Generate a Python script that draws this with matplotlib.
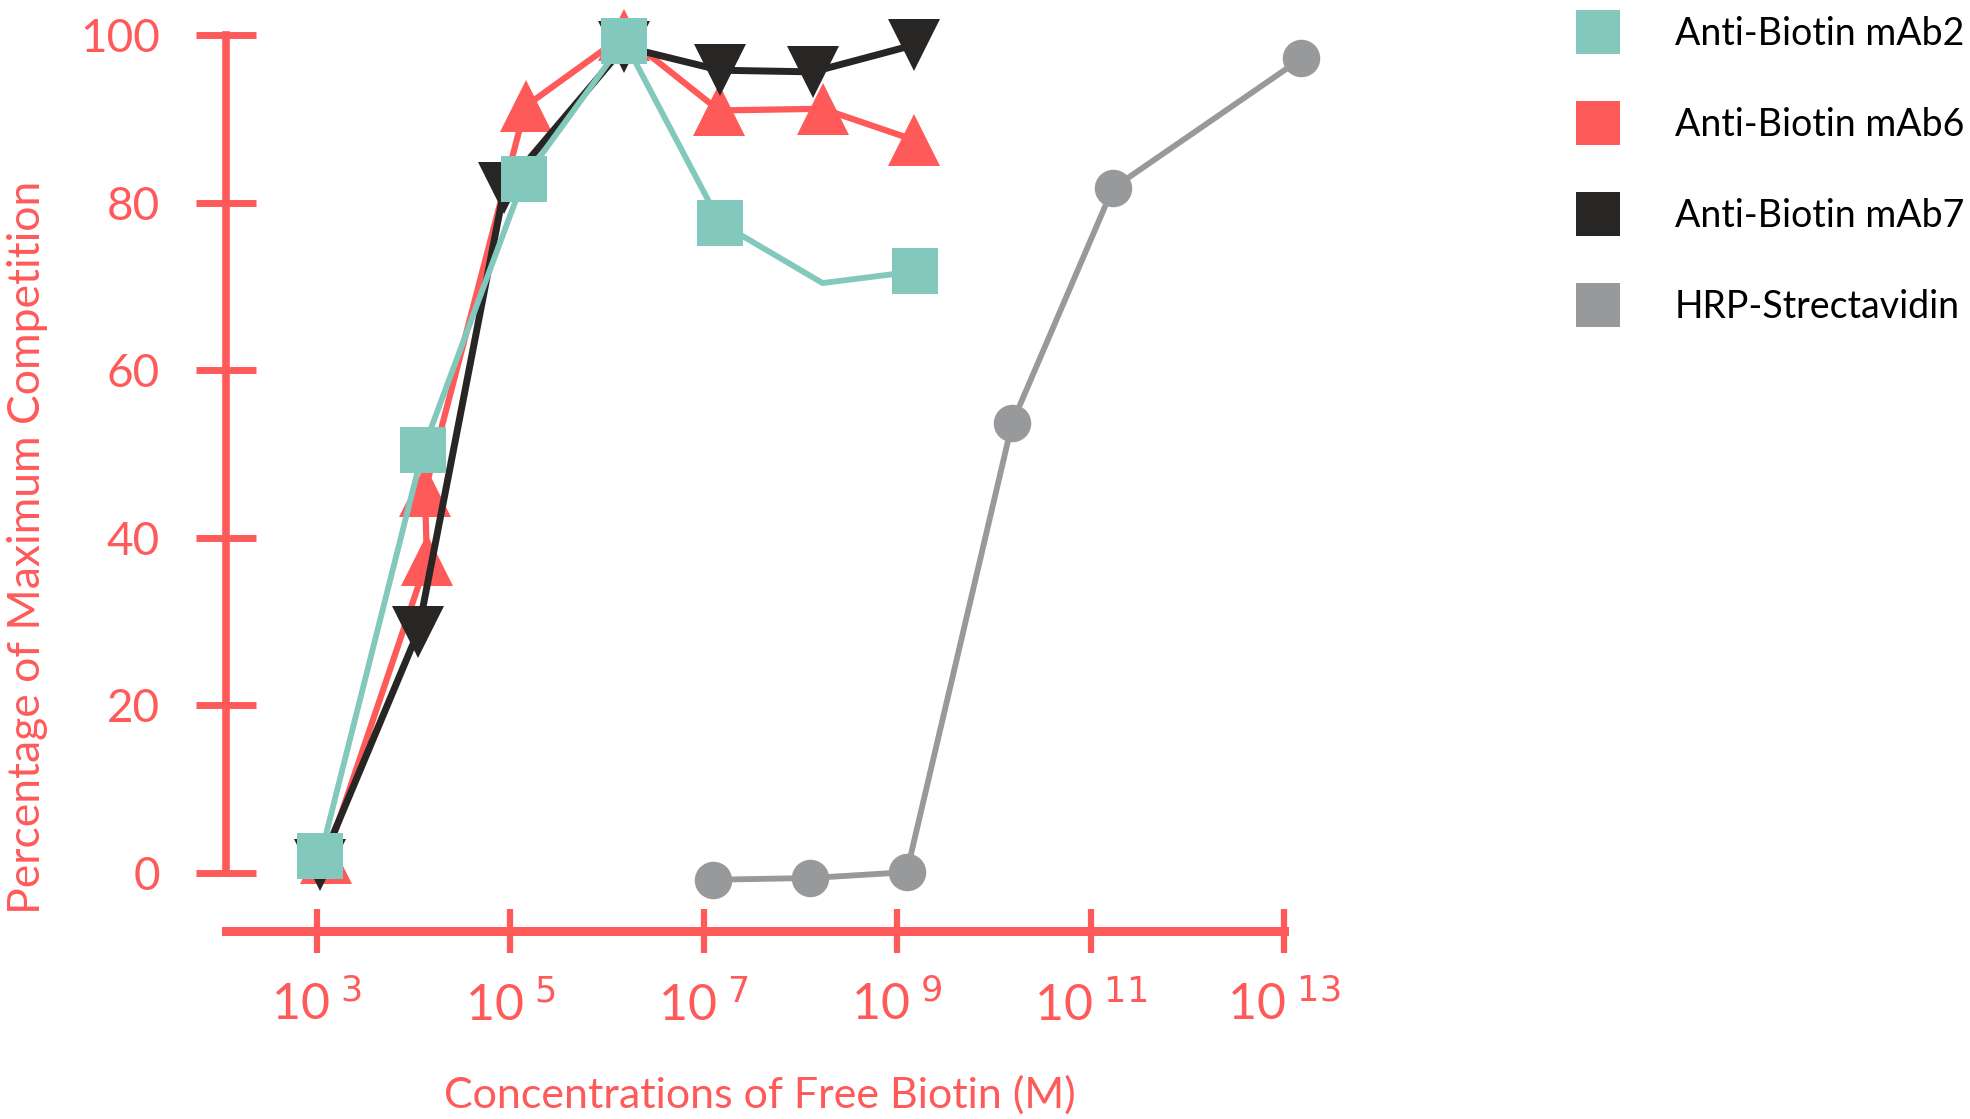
import matplotlib.pyplot as plt
from matplotlib.lines import Line2D

# log10 of free biotin concentration
mab2_x = [3.04, 4.10, 5.14, 6.18, 7.17, 8.23, 9.19]
mab2_y = [2.0, 50.5, 82.8, 99.3, 77.6, 70.4, 71.8]
mab2_marked = [0, 1, 2, 3, 4, 6]  # no marker on the 10^8 point

mab6_x = [3.10, 4.14, 4.12, 5.16, 6.18, 7.16, 8.23, 9.17]
mab6_y = [1.8, 37.3, 45.6, 91.5, 100.0, 91.0, 91.2, 87.5]

mab7_x = [3.04, 4.05, 4.94, 6.18, 7.17, 8.13, 9.17]
mab7_y = [1.0, 28.8, 81.7, 98.6, 95.8, 95.6, 98.8]

hrp_x = [7.10, 8.10, 9.10, 10.19, 11.23, 13.18]
hrp_y = [-0.8, -0.6, 0.1, 53.7, 81.7, 97.2]

x_ticks = [3, 5, 7, 9, 11, 13]
y_ticks = [0, 20, 40, 60, 80, 100]
labels = ['Anti-Biotin mAb2', 'Anti-Biotin mAb6', 'Anti-Biotin mAb7', 'HRP-Strectavidin']

teal = '#82c8bd'
red = '#ff5a5a'
black = '#282624'
grey = '#98999b'

fig = plt.figure(figsize=(19.7, 11.19), dpi=100)
ax = fig.add_axes([0.1147, 0.168, 0.5371, 0.8007])

ax.plot(hrp_x, hrp_y, color=grey, lw=4.2, marker='o', ms=27, mew=0, clip_on=False, zorder=2)
ax.plot(mab6_x, mab6_y, color=red, lw=4.5, marker='^', ms=37, mew=0, clip_on=False, zorder=3)
ax.plot(mab7_x, mab7_y, color=black, lw=5, marker='v', ms=37, mew=0, clip_on=False, zorder=4)
ax.plot(mab2_x, mab2_y, color=teal, lw=4.2, marker='s', ms=33, mew=0, markevery=mab2_marked,
        clip_on=False, zorder=5)

ax.set_xlim(2.063, 13)
ax.set_ylim(-6.92, 100)

for s in ['top', 'right']:
    ax.spines[s].set_visible(False)
ax.spines['left'].set_bounds(0, 100)
ax.spines['left'].set_color(red)
ax.spines['left'].set_linewidth(5.5)
ax.spines['bottom'].set_color(red)
ax.spines['bottom'].set_linewidth(6.5)

ax.set_yticks(y_ticks)
ax.set_yticklabels([str(v) for v in y_ticks], fontfamily='Lato', fontsize=33, color=red)
ax.tick_params(axis='y', direction='inout', length=43, width=5, color=red, pad=26)

ax.set_xticks(x_ticks)
ax.set_xticklabels([r'$\mathregular{10}^{\ %d}$' % v for v in x_ticks],
                   fontfamily='Lato', fontsize=36, color=red)
ax.tick_params(axis='x', direction='inout', length=31, width=4.5, color=red, pad=20)

ax.set_xlabel('Concentrations of Free Biotin (M)', fontfamily='Lato', fontsize=31, color=red)
ax.xaxis.label.set_va('center')
ax.xaxis.set_label_coords(0.505, -0.183)
ax.set_ylabel('Percentage of Maximum Competition', fontfamily='Lato', fontsize=32, color=red)
ax.yaxis.label.set_va('center')
ax.yaxis.set_label_coords(-0.188, 0.4286)

handles = [Line2D([], [], ls='none', marker='s', ms=31, mew=0, color=c)
           for c in [teal, red, black, grey]]
leg = fig.legend(handles, labels, loc='upper left', bbox_to_anchor=(0.800, 0.986),
                 frameon=False, prop={'family': 'Lato', 'size': 27},
                 borderpad=0, borderaxespad=0, handlelength=1.16,
                 handletextpad=1.48, labelspacing=1.47)

plt.savefig('out.png', dpi=100)
